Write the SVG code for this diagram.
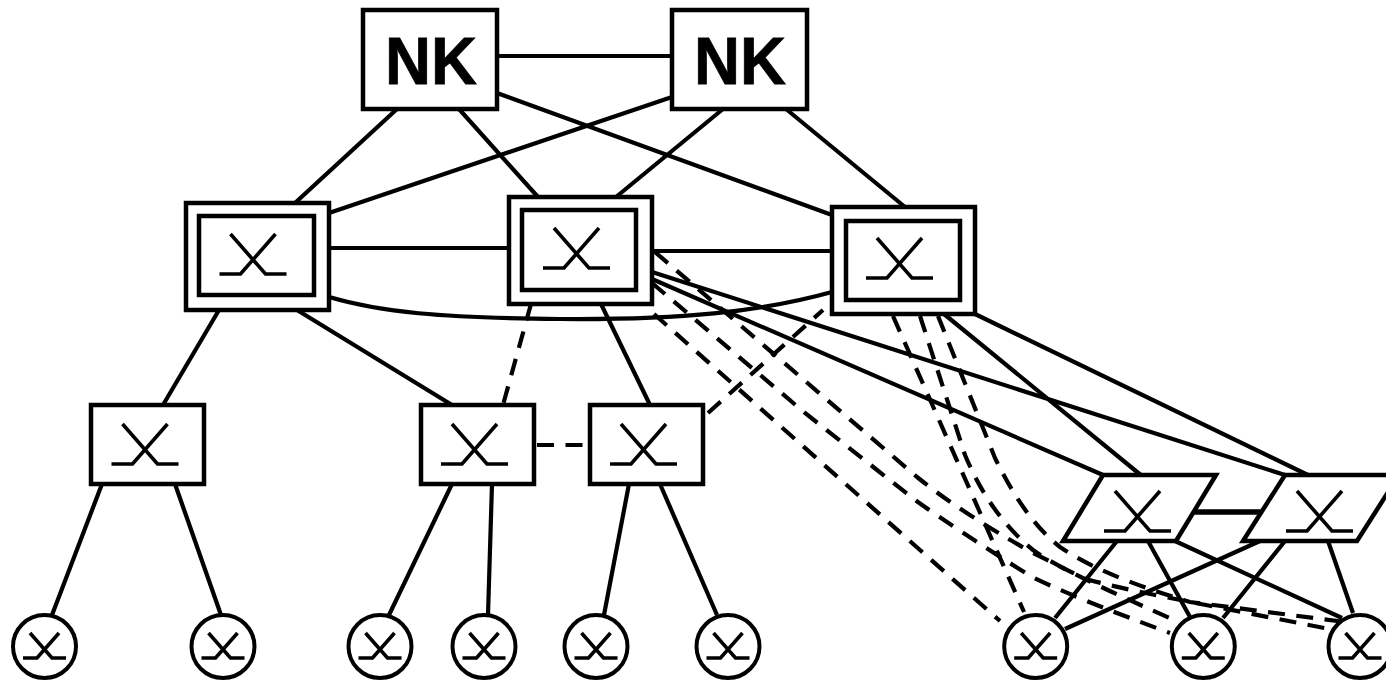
<svg xmlns="http://www.w3.org/2000/svg" xmlns:xlink="http://www.w3.org/1999/xlink" width="1386" height="681" viewBox="0 0 1386 681">
<style>
.l{fill:none;stroke:#000;stroke-width:4.200}
.y{fill:none;stroke:#000;stroke-width:3.600}
.d{fill:none;stroke:#000;stroke-width:4.200;stroke-dasharray:17 11.500}
.b{fill:#fff;stroke:#000;stroke-width:4.500}
.o{fill:#fff;stroke:#000;stroke-width:4}
.t{font-family:"Liberation Sans",Arial,sans-serif;font-weight:700;font-size:66px;text-anchor:middle;fill:#000;stroke:#000;stroke-width:.8}
</style>
<defs>
<path id="x" class="y" d="M-34,20H-13L22,-20M-23,-20L12,20H33"/>
<path id="s" class="y" d="M-21.500,12.500H-7.500L14.500,-12.500M-14.500,-12.500L7.500,12.500H21.500"/>
</defs>
<rect width="1386" height="681" fill="#fff"/>
<g id="connectors">
<path class="l" d="M497,56H672M497,93L832,215M672,97L329,213M397,109L295,203M459,109L538,197M723,109L616,197M786,109L905,207"/>
<path class="l" d="M329,248H509M652,251H832M329,297C380,312 440,318 560,319C680,320 760,312 832,292"/>
<path class="l" d="M219,310L163,405M297,310L452,405M601,304L650,405"/>
<path class="l" d="M652,279L1103,475M652,272L1285,475M944,314L1142,476M975,314L1310,476"/>
<path class="d" d="M531,304L503,405M537,445H590M708,413L823,310"/>
<path class="d" d="M655,252L917,477Q960,512 1033,553L1083,578Q1105,585 1165,597L1345,632"/>
<path class="d" d="M652,283L805,413L915,500Q960,532 1032,577Q1075,598 1170,633"/>
<path class="d" d="M654,314L1000,621"/>
<path class="d" d="M893,316L1024,612"/>
<path class="d" d="M920,316L965,455Q990,515 1033,550Q1060,570 1172,619"/>
<path class="d" d="M938,316L995,458Q1025,520 1060,547Q1100,575 1190,602L1345,622"/>
<path class="l" d="M1193,512H1262" style="stroke-width:5.500"/>
<path class="l" d="M102,484L52,615M175,484L221,615M452,484L389,615M492,484L488,615M629,484L604,615M660,484L717,615"/>
<path class="l" d="M1117,541L1055,618M1148,541L1190,617M1175,541L1342,618M1260,541L1065,629M1285,541L1223,618M1328,541L1353,613"/>
</g>
<g id="nk1"><rect class="b" x="363" y="10" width="134" height="99"/><text class="t" x="431" y="84" textLength="92" lengthAdjust="spacingAndGlyphs">NK</text></g>
<g id="nk2"><rect class="b" x="672" y="10" width="135" height="99"/><text class="t" x="740" y="84" textLength="92" lengthAdjust="spacingAndGlyphs">NK</text></g>
<g id="core1"><rect class="b" x="186" y="203" width="143" height="107"/><rect class="b" x="199" y="216" width="115" height="79"/><use xlink:href="#x" x="253.500" y="254"/></g>
<g id="core2"><rect class="b" x="509" y="197" width="143" height="107"/><rect class="b" x="522" y="210" width="114" height="80"/><use xlink:href="#x" x="577" y="248"/></g>
<g id="core3"><rect class="b" x="832" y="207" width="143" height="107"/><rect class="b" x="846" y="221" width="114" height="79"/><use xlink:href="#x" x="900" y="258"/></g>
<g id="mid1"><rect class="b" x="91" y="405" width="113" height="79"/><use xlink:href="#x" x="145.500" y="444"/></g>
<g id="mid2"><rect class="b" x="421" y="405" width="113" height="79"/><use xlink:href="#x" x="475" y="444"/></g>
<g id="mid3"><rect class="b" x="590" y="405" width="113" height="79"/><use xlink:href="#x" x="644" y="444"/></g>
<g id="para1"><path class="b" d="M1103,475H1216L1176,541H1063Z"/><use xlink:href="#x" x="1138" y="511"/></g>
<g id="para2"><path class="b" d="M1285,475H1399L1357,541H1243Z"/><use xlink:href="#x" x="1320" y="511"/></g>
<g id="leaf1"><circle class="o" cx="44.500" cy="646.500" r="31.500"/><use xlink:href="#s" x="44.500" y="645.500"/></g>
<g id="leaf2"><circle class="o" cx="223" cy="646.500" r="31.500"/><use xlink:href="#s" x="223" y="645.500"/></g>
<g id="leaf3"><circle class="o" cx="380" cy="646.500" r="31.500"/><use xlink:href="#s" x="380" y="645.500"/></g>
<g id="leaf4"><circle class="o" cx="484" cy="646.500" r="31.500"/><use xlink:href="#s" x="484" y="645.500"/></g>
<g id="leaf5"><circle class="o" cx="596" cy="646.500" r="31.500"/><use xlink:href="#s" x="596" y="645.500"/></g>
<g id="leaf6"><circle class="o" cx="728" cy="646.500" r="31.500"/><use xlink:href="#s" x="728" y="645.500"/></g>
<g id="leaf7"><circle class="o" cx="1035.700" cy="646.500" r="31.500"/><use xlink:href="#s" x="1035.700" y="645.500"/></g>
<g id="leaf8"><circle class="o" cx="1203.300" cy="646.500" r="31.500"/><use xlink:href="#s" x="1203.300" y="645.500"/></g>
<g id="leaf9"><circle class="o" cx="1360" cy="646.500" r="31.500"/><use xlink:href="#s" x="1360" y="645.500"/></g>
</svg>
